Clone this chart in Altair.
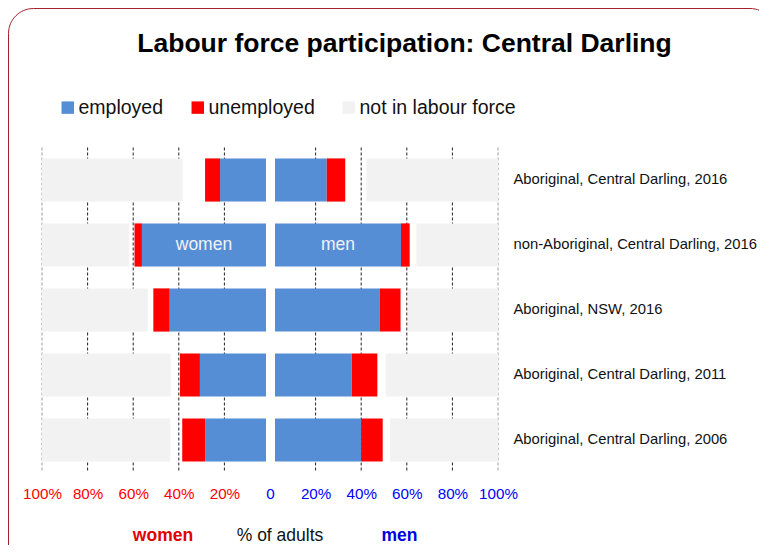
import altair as alt
import pandas as pd

FONT = "Liberation Sans, Arial"

title_text = ["Labour force participation: Central Darling"]
groups = [
    "Aboriginal, Central Darling, 2016",
    "non-Aboriginal, Central Darling, 2016",
    "Aboriginal, NSW, 2016",
    "Aboriginal, Central Darling, 2011",
    "Aboriginal, Central Darling, 2006",
]
statuses = ["employed", "unemployed", "not in labour force"]
status_colors = ["#558ED5", "#FF0000", "#F2F2F2"]

women_employed = [20.5, 55.4, 43.0, 29.5, 27.1]
women_unemployed = [6.7, 3.3, 7.3, 8.9, 10.3]
women_not_in_lf = [62.8, 38.8, 47.2, 57.4, 57.3]

men_employed = [23.2, 56.5, 46.9, 34.4, 38.6]
men_unemployed = [8.3, 3.9, 9.4, 11.5, 9.7]
men_not_in_lf = [59.0, 36.6, 40.4, 50.4, 48.4]

tick_values = [-100, -80, -60, -40, -20, 0, 20, 40, 60, 80, 100]
grid_values = [-100, -80, -60, -40, -20, 20, 40, 60, 80, 100]
bar_labels = ["women", "men"]
bottom_labels = ["women", "% of adults", "men"]


def segments(emp, unemp, nilf):
    rows = []
    for g, e, u, n in zip(groups, emp, unemp, nilf):
        rows.append(dict(group=g, status="employed", start=0, end=e))
        rows.append(dict(group=g, status="unemployed", start=e, end=e + u))
        rows.append(dict(group=g, status="not in labour force", start=100 - n, end=100))
    return pd.DataFrame(rows)


women_df = segments(women_employed, women_unemployed, women_not_in_lf)
men_df = segments(men_employed, men_unemployed, men_not_in_lf)

women_scale = alt.Scale(domain=[0, 100], range=[224, 0])
men_scale = alt.Scale(domain=[0, 100], range=[233, 456])

y_enc = alt.Y(
    "group:N",
    sort=groups,
    scale=alt.Scale(paddingInner=0.335, paddingOuter=0.1675),
    axis=alt.Axis(
        orient="right", title=None, ticks=False, domain=False,
        labelPadding=15, labelFontSize=14.8, labelFont=FONT,
        labelColor="#111111", labelLimit=300, labelAlign="left",
    ),
)

color_enc = alt.Color(
    "status:N",
    scale=alt.Scale(domain=statuses, range=status_colors),
    legend=alt.Legend(
        orient="none", legendX=16, legendY=-50, direction="horizontal",
        title=None, symbolType="square", symbolSize=155, symbolStrokeWidth=0,
        labelFontSize=19.5, labelFont=FONT, labelColor="#111111", labelLimit=300,
        labelOffset=1, columnPadding=24, padding=0,
    ),
)

frame = alt.Chart(pd.DataFrame({"a": [0]})).mark_rect(
    cornerRadius=25, fillOpacity=0, stroke="#A0222A", strokeWidth=1
).encode(
    x=alt.value(-33.5), x2=alt.value(733), y=alt.value(-139), y2=alt.value(460)
)

grid = alt.Chart(pd.DataFrame({"v": grid_values})).mark_rule(
    color="#222222", strokeWidth=1, strokeDash=[3, 2]
).encode(
    x=alt.X(
        "v:Q",
        scale=alt.Scale(domain=[-100, 100]),
        axis=alt.Axis(
            values=tick_values, title=None, grid=False, ticks=False, domain=False,
            labelExpr="datum.value == 0 ? '0' : abs(datum.value) + '%'",
            labelColor=alt.condition("datum.value < 0", alt.value("#FF0000"), alt.value("#0000FF")),
            labelFontSize=15.2, labelFont=FONT, labelPadding=14,
            labelOverlap=False, labelFlush=False,
        ),
    ),
    opacity=alt.condition("abs(datum.v) == 100", alt.value(0.45), alt.value(1)),
)

women_bars = alt.Chart(women_df).mark_bar(cornerRadius=0).encode(
    x=alt.X("start:Q", scale=women_scale, axis=None),
    x2="end:Q",
    y=y_enc,
    color=color_enc,
)

men_bars = alt.Chart(men_df).mark_bar(cornerRadius=0).encode(
    x=alt.X("start:Q", scale=men_scale, axis=None),
    x2="end:Q",
    y=y_enc,
    color=color_enc,
)

women_text = alt.Chart(
    pd.DataFrame({"group": [groups[1]], "mid": [women_employed[1] / 2], "t": [bar_labels[0]]})
).mark_text(fontSize=17.5, font=FONT, color="#F2F2F2", align="center", baseline="middle").encode(
    x=alt.X("mid:Q", scale=women_scale, axis=None), y=y_enc, text="t:N"
)

men_text = alt.Chart(
    pd.DataFrame({"group": [groups[1]], "mid": [men_employed[1] / 2], "t": [bar_labels[1]]})
).mark_text(fontSize=17.5, font=FONT, color="#F2F2F2", align="center", baseline="middle").encode(
    x=alt.X("mid:Q", scale=men_scale, axis=None), y=y_enc, text="t:N"
)

title = alt.Chart(pd.DataFrame({"t": title_text})).mark_text(
    font=FONT, fontWeight="bold", fontSize=26.5, color="#000000",
    align="center", baseline="alphabetic",
).encode(x=alt.value(362.5), y=alt.value(-95.5), text="t:N")

b_women = alt.Chart(pd.DataFrame({"t": [bottom_labels[0]]})).mark_text(
    font=FONT, fontWeight="bold", fontSize=17.5, color="#E00000", align="center", baseline="middle"
).encode(x=alt.value(121), y=alt.value(388), text="t:N")

b_mid = alt.Chart(pd.DataFrame({"t": [bottom_labels[1]]})).mark_text(
    font=FONT, fontSize=17.5, color="#111111", align="center", baseline="middle"
).encode(x=alt.value(238), y=alt.value(388), text="t:N")

b_men = alt.Chart(pd.DataFrame({"t": [bottom_labels[2]]})).mark_text(
    font=FONT, fontWeight="bold", fontSize=17.5, color="#0000E0", align="center", baseline="middle"
).encode(x=alt.value(357.5), y=alt.value(388), text="t:N")

chart = alt.layer(
    frame, grid, women_bars, men_bars, women_text, men_text, title, b_women, b_mid, b_men
).resolve_scale(
    x="independent"
).properties(
    width=456,
    height=325,
    autosize=alt.AutoSizeParams(type="none"),
    padding={"left": 34, "top": 139.5, "right": 261, "bottom": 72.5},
    background="white",
).configure_view(stroke=None)

chart.save("out.html", embed_options={"renderer": "svg", "actions": False})
